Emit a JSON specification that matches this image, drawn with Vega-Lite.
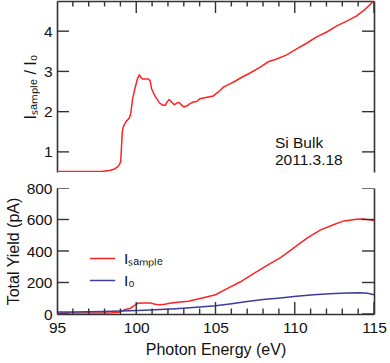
{
  "$schema": "https://vega.github.io/schema/vega-lite/v6.json",
  "padding": {"left": 5, "top": 1, "right": 2, "bottom": 2},
  "bounds": "flush",
  "spacing": 16,
  "config": {
    "view": {"stroke": null},
    "font": "Liberation Sans",
    "axis": {
      "grid": false,
      "ticks": false,
      "domainColor": "#333333",
      "domainWidth": 1.6,
      "labelFont": "Liberation Sans",
      "labelFontSize": 15.5,
      "labelColor": "#111111",
      "titleFont": "Liberation Sans",
      "titleFontSize": 16,
      "titleFontWeight": "normal",
      "titleColor": "#111111",
      "labelFlush": false,
      "labelOverlap": false
    }
  },
  "datasets": {
    "ratio": [
      {"e": 95.0, "r": 0.51}, {"e": 96.0, "r": 0.51}, {"e": 97.0, "r": 0.51}, {"e": 97.5, "r": 0.51},
      {"e": 97.9, "r": 0.52}, {"e": 98.3, "r": 0.54}, {"e": 98.6, "r": 0.57}, {"e": 98.8, "r": 0.62},
      {"e": 98.93, "r": 0.675}, {"e": 99.02, "r": 0.76}, {"e": 99.12, "r": 1.5}, {"e": 99.18, "r": 1.62},
      {"e": 99.35, "r": 1.75}, {"e": 99.56, "r": 1.84}, {"e": 99.65, "r": 1.95}, {"e": 99.77, "r": 2.32},
      {"e": 99.92, "r": 2.58}, {"e": 100.07, "r": 2.81}, {"e": 100.19, "r": 2.91}, {"e": 100.3, "r": 2.85},
      {"e": 100.4, "r": 2.81}, {"e": 100.76, "r": 2.81}, {"e": 100.87, "r": 2.77}, {"e": 100.97, "r": 2.57},
      {"e": 101.18, "r": 2.39}, {"e": 101.46, "r": 2.22}, {"e": 101.67, "r": 2.16}, {"e": 101.83, "r": 2.16},
      {"e": 101.96, "r": 2.25}, {"e": 102.07, "r": 2.3}, {"e": 102.23, "r": 2.24}, {"e": 102.4, "r": 2.17},
      {"e": 102.55, "r": 2.21}, {"e": 102.7, "r": 2.23}, {"e": 102.87, "r": 2.16}, {"e": 103.01, "r": 2.12},
      {"e": 103.18, "r": 2.14}, {"e": 103.39, "r": 2.2}, {"e": 103.6, "r": 2.24}, {"e": 103.81, "r": 2.25},
      {"e": 104.02, "r": 2.32}, {"e": 104.4, "r": 2.35}, {"e": 104.86, "r": 2.39}, {"e": 105.18, "r": 2.49},
      {"e": 105.5, "r": 2.61}, {"e": 105.91, "r": 2.69}, {"e": 106.2, "r": 2.75}, {"e": 106.55, "r": 2.83},
      {"e": 107.18, "r": 2.96}, {"e": 107.8, "r": 3.1}, {"e": 108.33, "r": 3.24}, {"e": 108.86, "r": 3.31},
      {"e": 109.49, "r": 3.41}, {"e": 110.12, "r": 3.56}, {"e": 110.75, "r": 3.7}, {"e": 111.38, "r": 3.86},
      {"e": 112.02, "r": 3.98}, {"e": 112.65, "r": 4.13}, {"e": 113.28, "r": 4.25}, {"e": 113.91, "r": 4.38},
      {"e": 114.43, "r": 4.54}, {"e": 115.0, "r": 4.76}
    ],
    "yield": [
      {"e": 95.0, "current": 6, "series": "Iₛₐₘₚₗₑ"}, {"e": 96.0, "current": 6, "series": "Iₛₐₘₚₗₑ"},
      {"e": 97.0, "current": 7, "series": "Iₛₐₘₚₗₑ"}, {"e": 98.0, "current": 7, "series": "Iₛₐₘₚₗₑ"},
      {"e": 98.5, "current": 8, "series": "Iₛₐₘₚₗₑ"}, {"e": 98.9, "current": 11, "series": "Iₛₐₘₚₗₑ"},
      {"e": 99.1, "current": 20, "series": "Iₛₐₘₚₗₑ"}, {"e": 99.3, "current": 28, "series": "Iₛₐₘₚₗₑ"},
      {"e": 99.6, "current": 35, "series": "Iₛₐₘₚₗₑ"}, {"e": 99.9, "current": 55, "series": "Iₛₐₘₚₗₑ"},
      {"e": 100.1, "current": 68, "series": "Iₛₐₘₚₗₑ"}, {"e": 100.5, "current": 70, "series": "Iₛₐₘₚₗₑ"},
      {"e": 100.9, "current": 70, "series": "Iₛₐₘₚₗₑ"}, {"e": 101.2, "current": 62, "series": "Iₛₐₘₚₗₑ"},
      {"e": 101.5, "current": 58, "series": "Iₛₐₘₚₗₑ"}, {"e": 101.8, "current": 62, "series": "Iₛₐₘₚₗₑ"},
      {"e": 102.2, "current": 70, "series": "Iₛₐₘₚₗₑ"}, {"e": 102.6, "current": 74, "series": "Iₛₐₘₚₗₑ"},
      {"e": 103.3, "current": 81, "series": "Iₛₐₘₚₗₑ"}, {"e": 104.1, "current": 100, "series": "Iₛₐₘₚₗₑ"},
      {"e": 105.0, "current": 122, "series": "Iₛₐₘₚₗₑ"}, {"e": 105.7, "current": 160, "series": "Iₛₐₘₚₗₑ"},
      {"e": 106.55, "current": 203, "series": "Iₛₐₘₚₗₑ"}, {"e": 107.4, "current": 256, "series": "Iₛₐₘₚₗₑ"},
      {"e": 108.2, "current": 305, "series": "Iₛₐₘₚₗₑ"}, {"e": 109.1, "current": 358, "series": "Iₛₐₘₚₗₑ"},
      {"e": 109.9, "current": 416, "series": "Iₛₐₘₚₗₑ"}, {"e": 110.75, "current": 480, "series": "Iₛₐₘₚₗₑ"},
      {"e": 111.6, "current": 533, "series": "Iₛₐₘₚₗₑ"}, {"e": 112.4, "current": 565, "series": "Iₛₐₘₚₗₑ"},
      {"e": 113.1, "current": 591, "series": "Iₛₐₘₚₗₑ"}, {"e": 113.9, "current": 602, "series": "Iₛₐₘₚₗₑ"},
      {"e": 114.3, "current": 603, "series": "Iₛₐₘₚₗₑ"}, {"e": 114.7, "current": 598, "series": "Iₛₐₘₚₗₑ"},
      {"e": 115.0, "current": 593, "series": "Iₛₐₘₚₗₑ"},
      {"e": 95.0, "current": 12, "series": "I₀"}, {"e": 96.0, "current": 13, "series": "I₀"},
      {"e": 97.0, "current": 14, "series": "I₀"}, {"e": 98.0, "current": 16, "series": "I₀"},
      {"e": 99.0, "current": 19, "series": "I₀"}, {"e": 99.6, "current": 21, "series": "I₀"},
      {"e": 100.5, "current": 24, "series": "I₀"}, {"e": 101.5, "current": 28, "series": "I₀"},
      {"e": 102.5, "current": 34, "series": "I₀"}, {"e": 103.8, "current": 43, "series": "I₀"},
      {"e": 105.0, "current": 53, "series": "I₀"}, {"e": 105.9, "current": 64, "series": "I₀"},
      {"e": 107.0, "current": 79, "series": "I₀"}, {"e": 108.0, "current": 92, "series": "I₀"},
      {"e": 109.1, "current": 102, "series": "I₀"}, {"e": 110.1, "current": 113, "series": "I₀"},
      {"e": 111.2, "current": 122, "series": "I₀"}, {"e": 112.2, "current": 128, "series": "I₀"},
      {"e": 113.3, "current": 134, "series": "I₀"}, {"e": 114.1, "current": 135, "series": "I₀"},
      {"e": 114.6, "current": 131, "series": "I₀"}, {"e": 115.0, "current": 122, "series": "I₀"}
    ],
    "note": [{"e": 108.75, "r": 1.09, "label": "Si Bulk\n2011.3.18"}],
    "topXTicks": [
      {"e": 95, "r": 4.75, "major": true}, {"e": 96, "r": 4.75, "major": false}, {"e": 97, "r": 4.75, "major": false},
      {"e": 98, "r": 4.75, "major": false}, {"e": 99, "r": 4.75, "major": false}, {"e": 100, "r": 4.75, "major": true},
      {"e": 101, "r": 4.75, "major": false}, {"e": 102, "r": 4.75, "major": false}, {"e": 103, "r": 4.75, "major": false},
      {"e": 104, "r": 4.75, "major": false}, {"e": 105, "r": 4.75, "major": true}, {"e": 106, "r": 4.75, "major": false},
      {"e": 107, "r": 4.75, "major": false}, {"e": 108, "r": 4.75, "major": false}, {"e": 109, "r": 4.75, "major": false},
      {"e": 110, "r": 4.75, "major": true}, {"e": 111, "r": 4.75, "major": false}, {"e": 112, "r": 4.75, "major": false},
      {"e": 113, "r": 4.75, "major": false}, {"e": 114, "r": 4.75, "major": false}, {"e": 115, "r": 4.75, "major": true}
    ],
    "topYTicks": [
      {"e": 95, "r": 1}, {"e": 95, "r": 2}, {"e": 95, "r": 3}, {"e": 95, "r": 4},
      {"e": 115, "r": 1}, {"e": 115, "r": 2}, {"e": 115, "r": 3}, {"e": 115, "r": 4}
    ],
    "botXTicks": [
      {"e": 95, "current": 0, "major": true}, {"e": 96, "current": 0, "major": false}, {"e": 97, "current": 0, "major": false},
      {"e": 98, "current": 0, "major": false}, {"e": 99, "current": 0, "major": false}, {"e": 100, "current": 0, "major": true},
      {"e": 101, "current": 0, "major": false}, {"e": 102, "current": 0, "major": false}, {"e": 103, "current": 0, "major": false},
      {"e": 104, "current": 0, "major": false}, {"e": 105, "current": 0, "major": true}, {"e": 106, "current": 0, "major": false},
      {"e": 107, "current": 0, "major": false}, {"e": 108, "current": 0, "major": false}, {"e": 109, "current": 0, "major": false},
      {"e": 110, "current": 0, "major": true}, {"e": 111, "current": 0, "major": false}, {"e": 112, "current": 0, "major": false},
      {"e": 113, "current": 0, "major": false}, {"e": 114, "current": 0, "major": false}, {"e": 115, "current": 0, "major": true}
    ],
    "botYTicks": [
      {"e": 95, "current": 0}, {"e": 95, "current": 200}, {"e": 95, "current": 400}, {"e": 95, "current": 600}, {"e": 95, "current": 800},
      {"e": 115, "current": 0}, {"e": 115, "current": 200}, {"e": 115, "current": 400}, {"e": 115, "current": 600}, {"e": 115, "current": 800}
    ]
  },
  "vconcat": [
    {
      "width": 317,
      "height": 171,
      "layer": [
        {
          "data": {"name": "ratio"},
          "mark": {"type": "line", "color": "#ff2222", "strokeWidth": 1.5, "clip": true},
          "encoding": {
            "x": {
              "field": "e", "type": "quantitative",
              "scale": {"domain": [95, 115], "nice": false, "zero": false},
              "axis": {"orient": "top", "title": null, "labels": false, "domain": true, "ticks": false}
            },
            "y": {
              "field": "r", "type": "quantitative",
              "scale": {"domain": [0.5, 4.75], "nice": false, "zero": false},
              "axis": {
                "orient": "left", "title": "Iₛₐₘₚₗₑ / I₀", "titlePadding": 5, "ticks": false,
                "values": [1, 2, 3, 4], "labelPadding": 5
              }
            }
          }
        },
        {
          "data": {"name": "note"},
          "mark": {"type": "text", "align": "left", "baseline": "alphabetic", "fontSize": 15.5, "lineBreak": "\n", "lineHeight": 17, "color": "#111111", "font": "Liberation Sans"},
          "encoding": {
            "x": {"field": "e", "type": "quantitative", "scale": {"domain": [95, 115], "nice": false, "zero": false}, "axis": null},
            "y": {
              "field": "r", "type": "quantitative",
              "scale": {"domain": [0.5, 4.75], "nice": false, "zero": false},
              "axis": {"orient": "right", "title": null, "labels": false, "domain": true, "ticks": false, "values": [1, 2, 3, 4]}
            },
            "text": {"field": "label"}
          }
        },
        {
          "data": {"name": "topXTicks"},
          "mark": {"type": "tick", "orient": "vertical", "thickness": 1.4, "color": "#333333", "clip": true, "opacity": 1},
          "encoding": {
            "x": {"field": "e", "type": "quantitative", "scale": {"domain": [95, 115], "nice": false, "zero": false}, "axis": null},
            "y": {"field": "r", "type": "quantitative", "scale": {"domain": [0.5, 4.75], "nice": false, "zero": false}, "axis": null},
            "size": {"condition": {"test": "datum.major", "value": 24}, "value": 11}
          }
        },
        {
          "data": {"name": "topYTicks"},
          "mark": {"type": "tick", "orient": "horizontal", "thickness": 1.4, "size": 24, "color": "#333333", "clip": true, "opacity": 1},
          "encoding": {
            "x": {"field": "e", "type": "quantitative", "scale": {"domain": [95, 115], "nice": false, "zero": false}, "axis": null},
            "y": {"field": "r", "type": "quantitative", "scale": {"domain": [0.5, 4.75], "nice": false, "zero": false}, "axis": null}
          }
        }
      ],
      "resolve": {"axis": {"x": "independent", "y": "independent"}}
    },
    {
      "width": 317,
      "height": 126,
      "layer": [
        {
          "data": {"name": "yield"},
          "mark": {"type": "line", "strokeWidth": 1.5},
          "encoding": {
            "x": {
              "field": "e", "type": "quantitative",
              "scale": {"domain": [95, 115], "nice": false, "zero": false},
              "axis": {
                "orient": "bottom", "title": "Photon Energy (eV)", "titlePadding": 6, "ticks": false,
                "values": [95, 100, 105, 110, 115], "labelPadding": 6
              }
            },
            "y": {
              "field": "current", "type": "quantitative",
              "scale": {"domain": [0, 800], "nice": false},
              "axis": {
                "orient": "left", "title": "Total Yield (pA)", "titlePadding": 5, "ticks": false,
                "values": [0, 200, 400, 600, 800], "labelPadding": 5
              }
            },
            "color": {
              "field": "series", "type": "nominal",
              "scale": {"domain": ["Iₛₐₘₚₗₑ", "I₀"], "range": ["#ff2222", "#3c3ca0"]},
              "legend": {
                "orient": "none", "legendX": 32, "legendY": 244, "title": null,
                "symbolType": "stroke", "symbolSize": 640, "symbolStrokeWidth": 1.5,
                "labelFontSize": 15.5, "labelFont": "Liberation Sans", "labelColor": "#111111",
                "labelOffset": 8, "rowPadding": 0, "padding": 0
              }
            }
          }
        },
        {
          "data": {"name": "yield"},
          "mark": {"type": "line", "opacity": 0},
          "encoding": {
            "x": {"field": "e", "type": "quantitative", "scale": {"domain": [95, 115], "nice": false, "zero": false}, "axis": null},
            "y": {
              "field": "current", "type": "quantitative",
              "scale": {"domain": [0, 800], "nice": false},
              "axis": {"orient": "right", "title": null, "labels": false, "domain": true, "ticks": false, "values": [0, 200, 400, 600, 800]}
            },
            "detail": {"field": "series", "type": "nominal"}
          }
        },
        {
          "data": {"name": "botXTicks"},
          "mark": {"type": "tick", "orient": "vertical", "thickness": 1.4, "color": "#333333", "clip": true, "opacity": 1},
          "encoding": {
            "x": {"field": "e", "type": "quantitative", "scale": {"domain": [95, 115], "nice": false, "zero": false}, "axis": null},
            "y": {"field": "current", "type": "quantitative", "scale": {"domain": [0, 800], "nice": false}, "axis": null},
            "size": {"condition": {"test": "datum.major", "value": 24}, "value": 11}
          }
        },
        {
          "data": {"name": "botYTicks"},
          "mark": {"type": "tick", "orient": "horizontal", "thickness": 1.4, "size": 24, "color": "#333333", "clip": true, "opacity": 1},
          "encoding": {
            "x": {"field": "e", "type": "quantitative", "scale": {"domain": [95, 115], "nice": false, "zero": false}, "axis": null},
            "y": {"field": "current", "type": "quantitative", "scale": {"domain": [0, 800], "nice": false}, "axis": null}
          }
        }
      ],
      "resolve": {"axis": {"x": "independent", "y": "independent"}}
    }
  ]
}
